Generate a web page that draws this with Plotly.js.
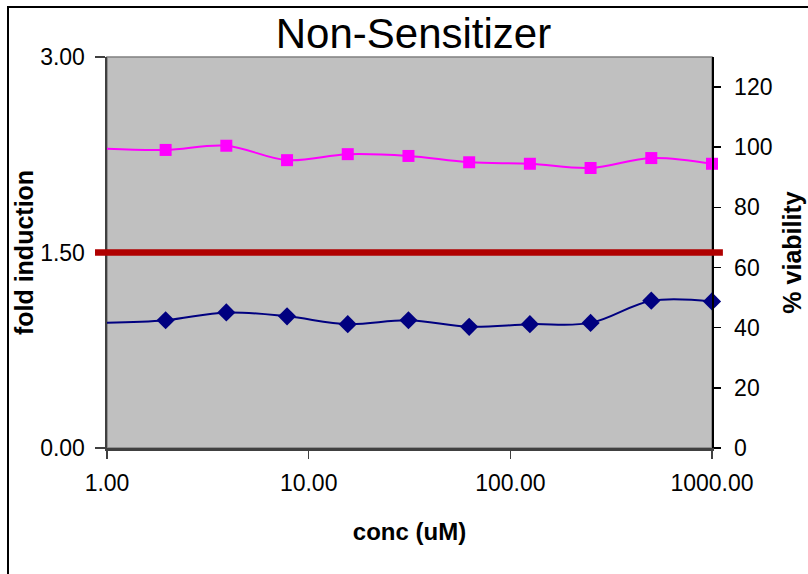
<!DOCTYPE html>
<html><head><meta charset="utf-8">
<script src="https://cdn.plot.ly/plotly-3.0.1.min.js"></script>
<style>
html,body{margin:0;padding:0;background:#fff;overflow:hidden}
#chart{width:808px;height:574px}
#frame{position:absolute;left:7px;top:6px;width:805px;height:572px;border-left:2px solid #000;border-top:2px solid #000;pointer-events:none}
</style>
</head><body><div id="chart"></div><div id="frame"></div>
<script>
// concentrations (uM), two-fold dilution series
const conc = [0.977, 1.953, 3.906, 7.8125, 15.625, 31.25, 62.5, 125, 250, 500, 1000];
// fold induction (left axis)
const foldInduction = [0.96, 0.98, 1.04, 1.01, 0.95, 0.98, 0.93, 0.95, 0.96, 1.13, 1.125];
// % viability (right axis)
const viability = [99.5, 99.1, 100.5, 95.7, 97.7, 97.1, 95.0, 94.5, 93.1, 96.4, 94.5];
const threshold = 1.5;
const xTickVals = [1, 10, 100, 1000];
const xTickText = ['1.00', '10.00', '100.00', '1000.00'];
const yTickVals = [0, 1.5, 3];
const yTickText = ['0.00', '1.50', '3.00'];
const y2TickVals = [0, 20, 40, 60, 80, 100, 120];

const FONT = 'Liberation Sans, Arial, sans-serif';

const traces = [
  {x: conc, y: foldInduction, xaxis: 'x', yaxis: 'y', mode: 'lines',
   line: {color: '#000080', width: 2, shape: 'spline', smoothing: 1}, hoverinfo: 'skip', showlegend: false},
  {x: conc.slice(1), y: foldInduction.slice(1), xaxis: 'x', yaxis: 'y', mode: 'markers',
   marker: {symbol: 'diamond', size: 14, color: '#000080'}, cliponaxis: false, showlegend: false},
  {x: conc, y: viability, xaxis: 'x', yaxis: 'y2', mode: 'lines',
   line: {color: '#FF00FF', width: 2, shape: 'spline', smoothing: 1}, hoverinfo: 'skip', showlegend: false},
  {x: conc.slice(1), y: viability.slice(1), xaxis: 'x', yaxis: 'y2', mode: 'markers',
   marker: {symbol: 'square', size: 12, color: '#FF00FF'}, cliponaxis: false, showlegend: false}
];

const layout = {
  width: 808, height: 574,
  margin: {l: 107, r: 96, t: 57, b: 126, pad: 0},
  paper_bgcolor: '#FFFFFF',
  plot_bgcolor: '#C0C0C0',
  font: {family: FONT, color: '#000'},
  showlegend: false,
  title: {text: 'Non-Sensitizer', font: {family: FONT, size: 42, color: '#000'},
          xref: 'paper', x: 0.5066, xanchor: 'center', yref: 'container', y: 1 - 33/574, yanchor: 'middle'},
  xaxis: {
    type: 'log', range: [0, 3], tickvals: xTickVals, ticktext: xTickText,
    ticks: 'outside', ticklen: 8, tickwidth: 1.5, tickcolor: '#404040',
    showline: true, linecolor: '#404040', linewidth: 2.5, showgrid: false, zeroline: false,
    tickfont: {family: FONT, size: 23}, ticklabelstandoff: 5,
    title: {text: 'conc (uM)', font: {family: FONT, size: 24, weight: 'bold'}, standoff: 28}
  },
  yaxis: {
    range: [0, 3], tickvals: yTickVals, ticktext: yTickText,
    ticks: 'outside', ticklen: 10, tickwidth: 1.5, tickcolor: '#404040',
    showline: true, linecolor: '#404040', linewidth: 2.5, showgrid: false, zeroline: false,
    tickfont: {family: FONT, size: 23}, ticklabelstandoff: 5,
    title: {text: 'fold induction', font: {family: FONT, size: 25, weight: 'bold'}, standoff: 0}
  },
  yaxis2: {
    overlaying: 'y', side: 'right', range: [0, 130], tickvals: y2TickVals,
    ticks: 'outside', ticklen: 7, tickwidth: 1.5, tickcolor: '#000',
    showline: true, linecolor: '#000', linewidth: 1.5, showgrid: false, zeroline: false,
    tickfont: {family: FONT, size: 23}, ticklabelstandoff: 9,
    title: {text: '% viability', font: {family: FONT, size: 25, weight: 'bold'}, standoff: 12}
  },
  yaxis3: {
    overlaying: 'y', side: 'right', range: [0, 130], tickvals: y2TickVals,
    ticks: 'inside', ticklen: 8, tickwidth: 1.5, tickcolor: '#000',
    showline: false, showgrid: false, zeroline: false, showticklabels: false
  },
  shapes: [
    {type: 'rect', xref: 'paper', yref: 'paper', x0: 0, x1: 1, y0: 0, y1: 1,
     line: {color: '#808080', width: 1.5}, layer: 'below'},
    {type: 'line', xref: 'paper', yref: 'y', x0: -0.0198, x1: 1.018, y0: threshold, y1: threshold,
     line: {color: '#B00000', width: 6.5}, layer: 'above'}
  ]
};

Plotly.newPlot('chart', traces, layout, {staticPlot: true, displayModeBar: false});
</script>
</body></html>
